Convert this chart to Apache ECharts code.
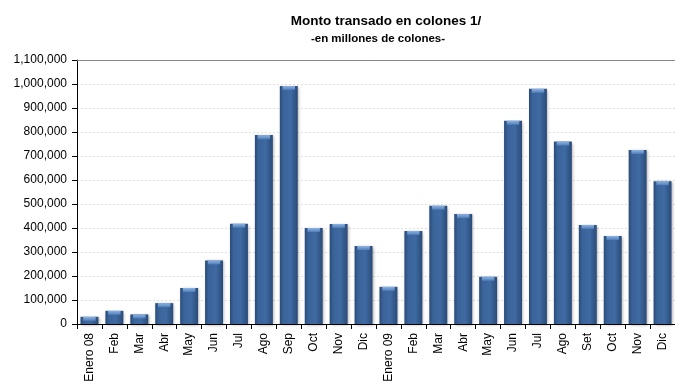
<!DOCTYPE html>
<html><head><meta charset="utf-8">
<script src="https://cdn.jsdelivr.net/npm/echarts@6/dist/echarts.min.js"></script>
<style>html,body{margin:0;padding:0;background:#fff}#c{width:675px;height:381px}</style>
</head><body><div id="c"></div>
<script>
const categories = ["Enero 08","Feb","Mar","Abr","May","Jun","Jul","Ago","Sep","Oct","Nov","Dic",
  "Enero 09","Feb","Mar","Abr","May","Jun","Jul","Ago","Set","Oct","Nov","Dic"];
const montos = [30000,55000,40000,87000,150000,265000,418000,787000,992000,400000,417000,325000,
  155000,388000,493000,458000,197000,847000,980000,760000,413000,367000,725000,595000];
const titleText = "Monto transado en colones 1/";
const subtitleText = "-en millones de colones-";

const F = "Liberation Sans";
const chart = echarts.init(document.getElementById('c'));
chart.setOption({
  animation:false,
  title:[{text:titleText, left:381, textAlign:'center', top:9,
    textStyle:{fontFamily:F,fontSize:13.5,fontWeight:'bold',color:'#000'}},
   {text:subtitleText, left:373, textAlign:'center', top:28,
    textStyle:{fontFamily:F,fontSize:11.5,fontWeight:'bold',color:'#000'}}],
  grid:{left:77,right:0,top:60,bottom:57,containLabel:false,outerBoundsMode:'none'},
  xAxis:[{type:'category',data:categories,boundaryGap:true,
    axisLine:{lineStyle:{color:'#000',width:1}},
    axisTick:{show:true,length:5,lineStyle:{color:'#000'}},
    axisLabel:{rotate:90,interval:0,margin:9,fontFamily:F,fontSize:12,color:'#000'}},
   {type:'category',data:categories,position:'top',axisLine:{show:true,lineStyle:{color:'#888'}},
    axisTick:{show:false},axisLabel:{show:false}}],
  yAxis:{type:'value',min:0,max:1100000,interval:100000,
    axisLine:{show:true,lineStyle:{color:'#000'}},
    axisTick:{show:true,length:5,lineStyle:{color:'#000'}},
    splitLine:{lineStyle:{color:'#e0e0e0',type:[2,2]}},
    axisLabel:{fontFamily:F,fontSize:12,color:'#000',margin:10,
      formatter:v=>v.toLocaleString('en-US')}},
  series:[{type:'bar',data:montos,barWidth:'72%',z:2,
    itemStyle:{color:new echarts.graphic.LinearGradient(0,0,1,0,[
      {offset:0,color:'#2a4b78'},{offset:0.2,color:'#3a6399'},{offset:0.6,color:'#3f6aa2'},{offset:1,color:'#2a4b78'}]),
      shadowColor:'rgba(0,0,0,0.35)',shadowBlur:3,shadowOffsetX:1,shadowOffsetY:1}},
   {type:'pictorialBar',data:montos,symbol:'rect',symbolSize:['72%',4],symbolPosition:'end',
    z:3,silent:true,
    itemStyle:{color:new echarts.graphic.LinearGradient(0,0,0,1,[
      {offset:0,color:'#8fb4e3'},{offset:1,color:'#4f7fba'}])}}]
});
</script></body></html>
